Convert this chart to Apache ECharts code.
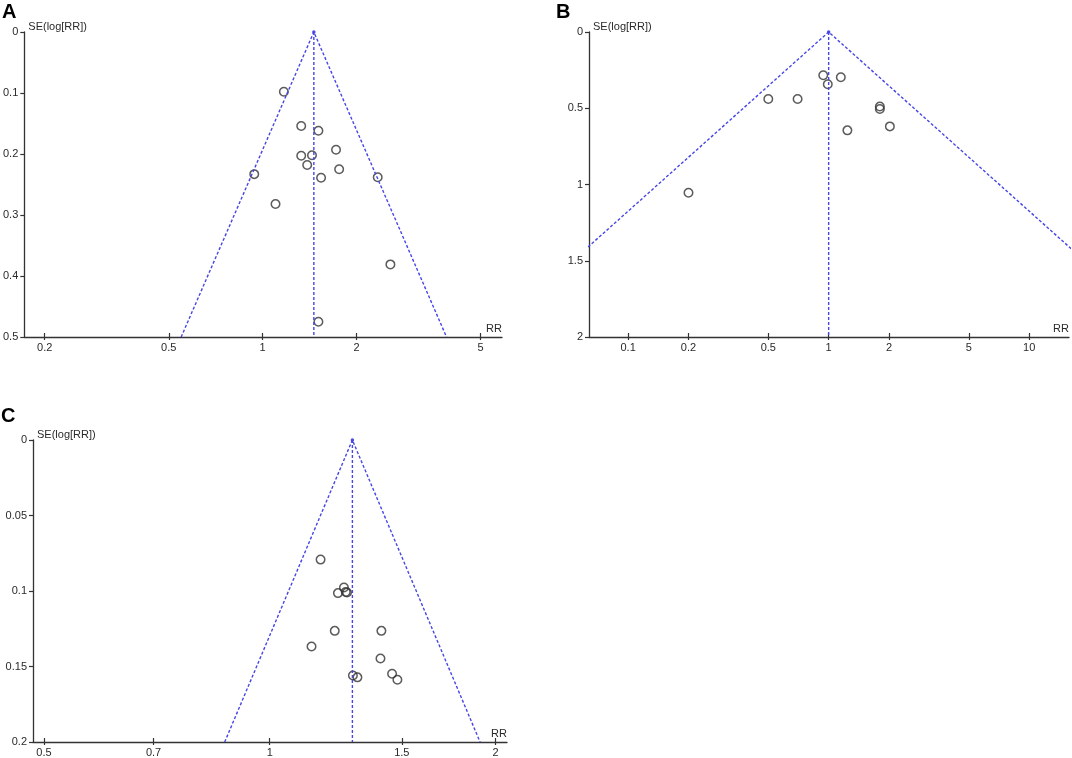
<!DOCTYPE html>
<html>
<head>
<meta charset="utf-8">
<script src="https://cdn.jsdelivr.net/npm/echarts@6/dist/echarts.min.js"></script>
<style>
  html, body { margin: 0; padding: 0; background: #fff; }
  #main { width: 1072px; height: 758px; }
</style>
</head>
<body>
<div id="main"></div>
<script>
// panel A
var rrA = [1.17, 1.33, 1.51, 1.72, 1.33, 1.44, 1.39, 1.76, 0.94, 1.54, 2.34, 1.10, 2.57, 1.51];
var seA = [0.098, 0.154, 0.162, 0.193, 0.203, 0.202, 0.218, 0.225, 0.233, 0.239, 0.238, 0.282, 0.381, 0.475];
var pooledA = 1.46;
var ticksA = [0.2, 0.5, 1, 2, 5];
var seTicksA = [0, 0.1, 0.2, 0.3, 0.4, 0.5];

// panel B
var rrB = [0.94, 1.15, 0.99, 0.50, 0.70, 1.80, 1.80, 1.24, 2.02, 0.20];
var seB = [0.284, 0.297, 0.343, 0.439, 0.439, 0.488, 0.505, 0.645, 0.619, 1.054];
var pooledB = 1.0;
var ticksB = [0.1, 0.2, 0.5, 1, 2, 5, 10];
var seTicksB = [0, 0.5, 1, 1.5, 2];

// panel C
var rrC = [1.169, 1.256, 1.233, 1.263, 1.268, 1.221, 1.409, 1.137, 1.405, 1.291, 1.309, 1.456, 1.48];
var seC = [0.0792, 0.0977, 0.1014, 0.1006, 0.101, 0.1264, 0.1264, 0.1367, 0.1447, 0.156, 0.1572, 0.1548, 0.1588];
var pooledC = 1.289;
var ticksC = [0.5, 0.7, 1, 1.5, 2];
var seTicksC = [0, 0.05, 0.1, 0.15, 0.2];

var LOG10E = Math.LOG10E;
var FONT = 'Liberation Sans, Arial, sans-serif';
var BLUE = '#4646e6';
var AXIS = '#333';

var myChart = echarts.init(document.getElementById('main'));

var panels = [
  {rr: rrA, se: seA, pooled: pooledA, ticks: ticksA, seTicks: seTicksA, xr: [0.172, 5.86],
   grid: {left: 23, top: 32, width: 479, height: 305}},
  {rr: rrB, se: seB, pooled: pooledB, ticks: ticksB, seTicks: seTicksB, xr: [0.0638, 15.8],
   grid: {left: 589, top: 32, width: 480, height: 305}},
  {rr: rrC, se: seC, pooled: pooledC, ticks: ticksC, seTicks: seTicksC, xr: [0.4835, 2.072],
   grid: {left: 33, top: 440, width: 474, height: 302}}
];

function lg(v) { return Math.log10(v); }
function fmt(v) { return String(+Math.pow(10, v).toPrecision(2)); }

var grids = [], xAxes = [], yAxes = [], series = [];

panels.forEach(function (p, i) {
  grids.push(p.grid);
  var seMax = p.seTicks[p.seTicks.length - 1];
  var tickVals = p.ticks.map(lg);

  // main x axis: line, outer ticks, labels, name
  xAxes.push({
    type: 'value', gridIndex: i, min: lg(p.xr[0]), max: lg(p.xr[1]),
    splitLine: {show: false},
    axisLine: {onZero: false, lineStyle: {color: AXIS, width: 1.3}},
    axisTick: {show: true, length: 3, customValues: tickVals, lineStyle: {color: AXIS, width: 1.2}},
    axisLabel: {customValues: tickVals, formatter: fmt, color: '#2a2a2a', fontFamily: FONT, fontSize: 11, margin: 5},
    name: 'RR', nameLocation: 'end', nameGap: 0,
    nameTextStyle: {color: '#2a2a2a', fontFamily: FONT, fontSize: 11, align: 'right', verticalAlign: 'bottom', padding: [0, 0, 3, 0]}
  });
  // companion axis: inner half of the crossing ticks
  xAxes.push({
    type: 'value', gridIndex: i, min: lg(p.xr[0]), max: lg(p.xr[1]), position: 'bottom',
    splitLine: {show: false},
    axisLine: {show: false, onZero: false},
    axisTick: {show: true, inside: true, length: 4, customValues: tickVals, lineStyle: {color: AXIS, width: 1.2}},
    axisLabel: {show: false}
  });

  yAxes.push({
    type: 'value', gridIndex: i, min: 0, max: seMax, inverse: true,
    interval: p.seTicks[1] - p.seTicks[0],
    splitLine: {show: false},
    axisLine: {onZero: false, lineStyle: {color: AXIS, width: 1.3}},
    axisTick: {length: 4, lineStyle: {color: AXIS, width: 1.2}},
    axisLabel: {color: '#2a2a2a', fontFamily: FONT, fontSize: 11, margin: 6},
    name: 'SE(log[RR])', nameLocation: 'start', nameGap: 0,
    nameTextStyle: {color: '#2a2a2a', fontFamily: FONT, fontSize: 11, align: 'left', verticalAlign: 'bottom', padding: [0, 0, 0, 4]}
  });

  var c = lg(p.pooled);
  var half = 1.96 * seMax * LOG10E;
  var xi = i * 2;

  series.push({
    type: 'line', xAxisIndex: xi, yAxisIndex: i, silent: true, animation: false,
    data: [[c - half, seMax], [c, 0], [c + half, seMax]],
    showSymbol: false, clip: true,
    lineStyle: {color: BLUE, width: 1.4, type: [3, 2]}
  });
  series.push({
    type: 'line', xAxisIndex: xi, yAxisIndex: i, silent: true, animation: false,
    data: [[c, 0], [c, seMax]],
    showSymbol: false,
    lineStyle: {color: BLUE, width: 1.4, type: [3, 2]}
  });
  series.push({
    type: 'scatter', xAxisIndex: xi, yAxisIndex: i, silent: true, animation: false,
    data: [[c, 0]], symbolSize: 3.5, itemStyle: {color: '#2020e0'}
  });
  series.push({
    type: 'scatter', xAxisIndex: xi, yAxisIndex: i, animation: false,
    data: p.rr.map(function (r, k) { return [lg(r), p.se[k]]; }),
    symbol: 'circle', symbolSize: 8.5,
    itemStyle: {color: 'rgba(0,0,0,0)', borderColor: '#333', borderWidth: 1.5}
  });
});

var letterStyle = {color: '#000', fontFamily: FONT, fontSize: 20, fontWeight: 'bold'};
var option = {
  backgroundColor: '#fff',
  title: [
    {text: 'A', left: 2, top: 2, padding: 0, textStyle: letterStyle},
    {text: 'B', left: 556, top: 2, padding: 0, textStyle: letterStyle},
    {text: 'C', left: 1, top: 406, padding: 0, textStyle: letterStyle}
  ],
  grid: grids,
  xAxis: xAxes,
  yAxis: yAxes,
  series: series
};
myChart.setOption(option);
</script>
</body>
</html>
